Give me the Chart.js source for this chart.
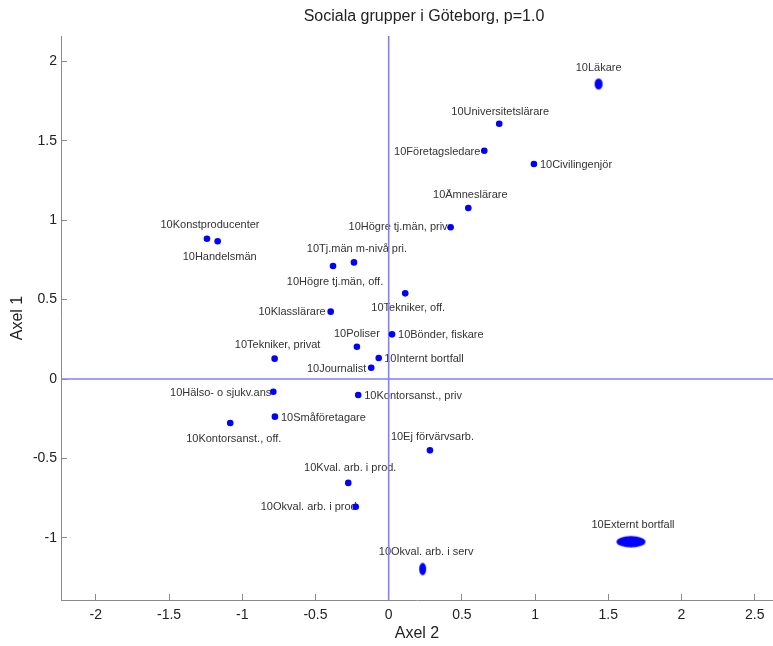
<!DOCTYPE html>
<html>
<head>
<meta charset="utf-8">
<script src="https://cdn.jsdelivr.net/npm/chart.js@4/dist/chart.umd.min.js"></script>
<style>
html,body{margin:0;padding:0;background:#ffffff;overflow:hidden}
canvas{display:block}
</style>
</head>
<body>
<canvas id="c" width="773" height="646"></canvas>
<script>
// ---- data ----
const chartTitle = 'Sociala grupper i Göteborg, p=1.0';
const xAxisTitle = 'Axel 2';
const yAxisTitle = 'Axel 1';

const groups = [
  '10Läkare', '10Universitetslärare', '10Företagsledare', '10Civilingenjör',
  '10Ämneslärare', '10Högre tj.män, priv', '10Konstproducenter', '10Handelsmän',
  '10Tj.män m-nivå pri.', '10Högre tj.män, off.', '10Tekniker, off.', '10Klasslärare',
  '10Bönder, fiskare', '10Poliser', '10Tekniker, privat', '10Internt bortfall',
  '10Journalist', '10Hälso- o sjukv.ans', '10Kontorsanst., priv', '10Småföretagare',
  '10Kontorsanst., off.', '10Ej förvärvsarb.', '10Kval. arb. i prod.', '10Okval. arb. i prod',
  '10Okval. arb. i serv', '10Externt bortfall'
];
// Axel 2 (horizontal)
const axel2 = [
  1.434, 0.755, 0.653, 0.992,
  0.544, 0.423, -1.241, -1.168,
  -0.237, -0.380, 0.113, -0.396,
  0.023, -0.217, -0.779, -0.068,
  -0.119, -0.788, -0.208, -0.777,
  -1.082, 0.282, -0.276, -0.225,
  0.232, 1.655
];
// Axel 1 (vertical)
const axel1 = [
  1.857, 1.607, 1.437, 1.353,
  1.076, 0.955, 0.883, 0.867,
  0.734, 0.711, 0.539, 0.424,
  0.281, 0.203, 0.128, 0.132,
  0.071, -0.080, -0.101, -0.237,
  -0.277, -0.449, -0.654, -0.804,
  -1.196, -1.024
];
const xTickValues = [-2, -1.5, -1, -0.5, 0, 0.5, 1, 1.5, 2, 2.5];
const yTickValues = [-1, -0.5, 0, 0.5, 1, 1.5, 2];

// ---- styles (label placement: align, dx, dy in px relative to marker) ----
const labelPlacement = [
  ['center', 0, -16], ['center', 1, -12], ['right', -4, 1], ['left', 6, 1],
  ['center', 2, -13.5], ['right', -3, 0], ['center', 3, -13.5], ['center', 2, 16],
  ['center', 3, -13.5], ['center', 2, 15.5], ['center', 3, 15], ['right', -5, 0.5],
  ['left', 6, 0.5], ['center', 0, -13], ['center', 3, -14], ['left', 5.5, 0.5],
  ['right', -5, 1.5], ['right', -2, 1], ['left', 6, 1], ['left', 6, 1],
  ['center', 3.5, 16], ['center', 2.5, -13], ['center', 2, -14.5], ['right', 1, 0],
  ['center', 3.5, -17], ['center', 2, -16.5]
];
const ellipseMarkers = { '10Läkare': [8, 11], '10Okval. arb. i serv': [7, 12.5], '10Externt bortfall': [29, 11.5] };
const markerColor = '#0000ff';
const zeroLineColor = '#8080ff';
const axisColor = '#8a8a8a';
const FONT = '"Liberation Sans", Arial, Helvetica, sans-serif';

function ellipseCanvas(w, h) {
  const c = document.createElement('canvas');
  c.width = Math.ceil(w) + 2; c.height = Math.ceil(h) + 2;
  const g = c.getContext('2d');
  g.fillStyle = markerColor;
  g.beginPath();
  g.ellipse(c.width / 2, c.height / 2, w / 2, h / 2, 0, 0, Math.PI * 2);
  g.fill();
  return c;
}
const pointStyles = groups.map(g => ellipseMarkers[g] ? ellipseCanvas(ellipseMarkers[g][0], ellipseMarkers[g][1]) : 'circle');

const points = groups.map((g, i) => ({ x: axel2[i], y: axel1[i] }));

Chart.defaults.font.family = FONT;

const decorPlugin = {
  id: 'decor',
  beforeDatasetsDraw(chart) {
    const ctx = chart.ctx;
    const meta = chart.getDatasetMeta(0);
    ctx.save();
    ctx.font = '11px ' + FONT;
    ctx.fillStyle = '#333333';
    ctx.textBaseline = 'middle';
    meta.data.forEach((pt, i) => {
      const p = labelPlacement[i];
      ctx.textAlign = p[0];
      ctx.fillText(groups[i], pt.x + p[1], pt.y + p[2]);
    });
    // zero lines
    const a = chart.chartArea;
    const x0 = chart.scales.x.getPixelForValue(0);
    const y0 = chart.scales.y.getPixelForValue(0);
    ctx.strokeStyle = zeroLineColor;
    ctx.lineWidth = 1.6;
    ctx.beginPath();
    ctx.moveTo(a.left, y0); ctx.lineTo(a.right, y0);
    ctx.moveTo(x0, a.top); ctx.lineTo(x0, a.bottom);
    ctx.stroke();
    ctx.restore();
  },
  afterDraw(chart) {
    const ctx = chart.ctx;
    ctx.save();
    ctx.font = '16px ' + FONT;
    ctx.fillStyle = '#222222';
    ctx.textAlign = 'center';
    ctx.textBaseline = 'middle';
    ctx.fillText(chartTitle, 424, 17);
    ctx.restore();
  }
};

const fmt = v => (Math.abs(v) < 1e-9 ? '0' : String(v));

new Chart(document.getElementById('c'), {
  type: 'scatter',
  data: {
    datasets: [{
      data: points,
      backgroundColor: markerColor,
      borderColor: markerColor,
      borderWidth: 0,
      pointRadius: 3.3,
      pointStyle: pointStyles,
      clip: false
    }]
  },
  options: {
    responsive: false,
    animation: false,
    events: [],
    layout: { autoPadding: false, padding: { top: 36, left: 0, right: 0, bottom: 0 } },
    plugins: { legend: { display: false }, tooltip: { enabled: false }, title: { display: false } },
    scales: {
      x: {
        type: 'linear',
        min: -2.238, max: 2.625,
        afterBuildTicks: s => { s.ticks = xTickValues.map(v => ({ value: v })); },
        afterFit: s => { s.height = 46; s.paddingLeft = 0; s.paddingRight = 0; },
        grid: { display: true, drawOnChartArea: false, drawTicks: true, tickLength: -6, color: axisColor, tickColor: axisColor },
        border: { display: true, color: axisColor, width: 1 },
        ticks: { padding: 13, autoSkip: false, maxRotation: 0, font: { size: 14 }, color: '#222222', callback: fmt },
        title: { display: true, text: xAxisTitle, color: '#222222', font: { size: 16 }, padding: { top: 0, bottom: 3 } }
      },
      y: {
        type: 'linear',
        min: -1.391, max: 2.159,
        afterBuildTicks: s => { s.ticks = yTickValues.map(v => ({ value: v })); },
        afterFit: s => { s.width = 61; s.paddingTop = 0; s.paddingBottom = 0; },
        grid: { display: true, drawOnChartArea: false, drawTicks: true, tickLength: -6, color: axisColor, tickColor: axisColor },
        border: { display: true, color: axisColor, width: 1 },
        ticks: { padding: 10, autoSkip: false, font: { size: 14 }, color: '#222222', callback: fmt },
        title: { display: true, text: yAxisTitle, color: '#222222', font: { size: 16 }, padding: { top: 8, bottom: 0 } }
      }
    }
  },
  plugins: [decorPlugin]
});
</script>
</body>
</html>
